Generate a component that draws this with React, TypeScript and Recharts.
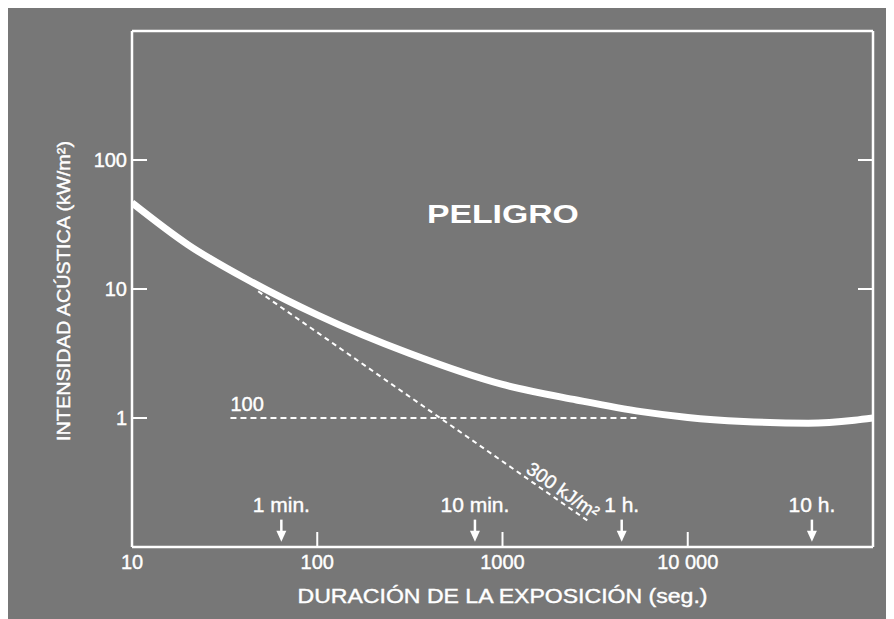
import { LineChart, Line, XAxis, YAxis, ReferenceDot } from 'recharts'

// exposure curve (seconds -> kW/m²)
const curveT = [10, 20, 45, 100, 316, 1000, 2510, 5620, 10000, 20000, 44700, 79400, 100000]
const curveI = [46.6, 22.1, 11.2, 6.3, 3.16, 1.82, 1.38, 1.12, 1.01, 0.94, 0.912, 0.96, 1.0]

// 300 kJ/m² constant-dose line
const doseT = [48, 2900]
const doseI = [9.6, 0.159]

// "100" horizontal limit line
const limitT = [34, 5400]
const limitI = [1, 1]

const xTicks = [10, 100, 1000, 10000]
const yTicks = [1, 10, 100]

const markerLabels = ['1 min.', '10 min.', '1 h.', '10 h.']
const markerT = [64, 710, 4400, 46800]
const markerI = 0.163

const curveData = curveT.map((t, k) => ({ t, i: curveI[k] }))
const doseData = doseT.map((t, k) => ({ t, i: doseI[k] }))
const limitData = limitT.map((t, k) => ({ t, i: limitI[k] }))

const FONT = '"Liberation Sans", Arial, sans-serif'
const WHITE = '#ffffff'
const BG = '#777777'

function formatX(v: number): string {
  return v === 10000 ? '10 000' : String(v)
}

function XTitle(props: any) {
  const { x, y, width } = props.viewBox
  return (
    <text
      x={x + width / 2}
      y={y + 49}
      textAnchor="middle"
      dominantBaseline="central"
      fill={WHITE}
      stroke={WHITE}
      strokeWidth={0.4}
      fontSize={20}
      fontFamily={FONT}
      textLength={410}
      lengthAdjust="spacingAndGlyphs"
    >
      DURACIÓN DE LA EXPOSICIÓN (seg.)
    </text>
  )
}

function YTitle(props: any) {
  const { x, y, height } = props.viewBox
  const cx = x - 9
  const cy = y + height / 2 + 2
  return (
    <text
      x={cx}
      y={cy}
      transform={`rotate(-90 ${cx} ${cy})`}
      textAnchor="middle"
      dominantBaseline="central"
      fill={WHITE}
      stroke={WHITE}
      strokeWidth={0.4}
      fontSize={19}
      fontFamily={FONT}
      textLength={300}
      lengthAdjust="spacingAndGlyphs"
    >
      INTENSIDAD ACÚSTICA (kW/m²)
    </text>
  )
}

const markerLabel = (text: string) => (props: any) => {
  const { x, y } = props.viewBox
  return (
    <g>
      <text
        x={x}
        y={y - 15}
        textAnchor="middle"
        dominantBaseline="central"
        fill={WHITE}
        stroke={WHITE}
        strokeWidth={0.4}
        fontSize={21}
        fontFamily={FONT}
      >
        {text}
      </text>
      <line x1={x} y1={y} x2={x} y2={y + 12} stroke={WHITE} strokeWidth={2.5} />
      <polygon points={`${x - 5},${y + 11} ${x + 5},${y + 11} ${x},${y + 22}`} fill={WHITE} />
    </g>
  )
}

function PeligroLabel(props: any) {
  const { x, y } = props.viewBox
  return (
    <text
      x={x}
      y={y}
      textAnchor="middle"
      dominantBaseline="central"
      fill={WHITE}
      fontSize={25}
      fontWeight="bold"
      fontFamily={FONT}
      textLength={152}
      lengthAdjust="spacingAndGlyphs"
    >
      PELIGRO
    </text>
  )
}

function LimitLabel(props: any) {
  const { x, y } = props.viewBox
  return (
    <text
      x={x}
      y={y - 14}
      dominantBaseline="central"
      fill={WHITE}
      stroke={WHITE}
      strokeWidth={0.4}
      fontSize={20}
      fontFamily={FONT}
    >
      100
    </text>
  )
}

function DoseLabel(props: any) {
  const { x, y } = props.viewBox
  return (
    <text
      transform={`translate(${x + 6} ${y - 9}) rotate(35)`}
      textAnchor="middle"
      dominantBaseline="central"
      fill={WHITE}
      stroke={WHITE}
      strokeWidth={0.4}
      fontSize={19}
      fontFamily={FONT}
    >
      300 kJ/m²
    </text>
  )
}

export default function App() {
  const axisLine = { stroke: WHITE, strokeWidth: 2.5 }
  const tickLine = { stroke: WHITE, strokeWidth: 2 }
  const tickText = { fill: WHITE, stroke: WHITE, strokeWidth: 0.4, fontSize: 20, fontFamily: FONT }
  return (
    <div style={{ background: BG, width: 886, height: 613, marginTop: -2 }}>
      <LineChart
        width={886}
        height={613}
        margin={{ top: 24, right: 20, bottom: 32, left: 64 }}
      >
        <XAxis
          dataKey="t"
          type="number"
          scale="log"
          domain={[10, 100000]}
          ticks={xTicks}
          allowDataOverflow
          height={40}
          axisLine={axisLine}
          tickLine={tickLine}
          tickSize={-15}
          tickMargin={23}
          tick={tickText}
          tickFormatter={formatX}
          label={{ content: XTitle }}
        />
        <XAxis
          xAxisId="top"
          orientation="top"
          type="number"
          scale="log"
          domain={[10, 100000]}
          ticks={xTicks}
          allowDataOverflow
          height={1}
          axisLine={axisLine}
          tickLine={tickLine}
          tickSize={-15}
          tick={tickText}
          tickFormatter={() => ''}
        />
        <YAxis
          type="number"
          scale="log"
          domain={[0.1, 1000]}
          ticks={yTicks}
          allowDataOverflow
          width={60}
          axisLine={axisLine}
          tickLine={tickLine}
          tickSize={-15}
          tickMargin={20}
          tick={tickText}
          label={{ content: YTitle }}
        />
        <YAxis
          yAxisId="right"
          orientation="right"
          type="number"
          scale="log"
          domain={[0.1, 1000]}
          ticks={yTicks}
          allowDataOverflow
          width={1}
          axisLine={axisLine}
          tickLine={tickLine}
          tickSize={-15}
          tick={tickText}
          tickFormatter={() => ''}
        />
        <Line
          data={limitData}
          dataKey="i"
          stroke={WHITE}
          strokeWidth={2}
          strokeDasharray="6 4"
          dot={false}
          isAnimationActive={false}
        />
        <Line
          data={doseData}
          dataKey="i"
          stroke={WHITE}
          strokeWidth={2}
          strokeDasharray="5 4"
          dot={false}
          isAnimationActive={false}
        />
        <Line
          data={curveData}
          dataKey="i"
          type="monotone"
          stroke={WHITE}
          strokeWidth={7}
          dot={false}
          isAnimationActive={false}
        />
        <ReferenceDot x={1005} y={38.3} r={0} stroke="none" label={{ content: PeligroLabel }} />
        <ReferenceDot x={limitT[0]} y={1} r={0} stroke="none" label={{ content: LimitLabel }} />
        <ReferenceDot x={1968} y={0.234} r={0} stroke="none" label={{ content: DoseLabel }} />
        {markerT.map((t, k) => (
          <ReferenceDot
            key={markerLabels[k]}
            x={t}
            y={markerI}
            r={0}
            stroke="none"
            label={{ content: markerLabel(markerLabels[k]) }}
          />
        ))}
      </LineChart>
    </div>
  )
}
